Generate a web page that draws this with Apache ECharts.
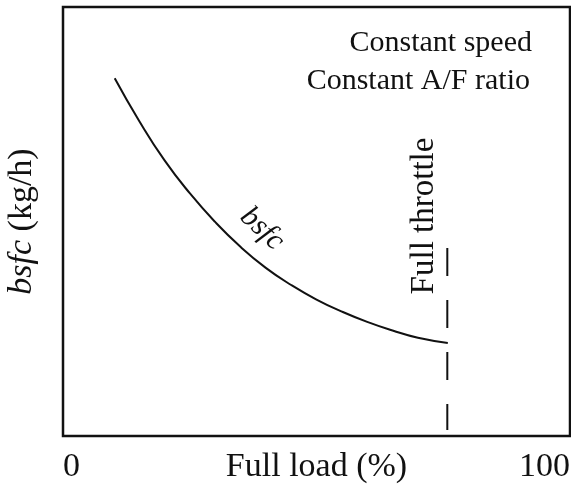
<!DOCTYPE html>
<html>
<head>
<meta charset="utf-8">
<script src="https://cdn.jsdelivr.net/npm/echarts@6/dist/echarts.min.js"></script>
<style>
  html, body { margin: 0; padding: 0; background: #fff; }
  #main { width: 571px; height: 493px; }
</style>
</head>
<body>
<div id="main"></div>
<script>
// bsfc curve (load %, relative bsfc)
var loadPct = [10.2, 15, 20, 25, 30, 35, 40, 45, 50, 55, 60, 65, 70, 75.9];
var bsfcVal = [83.4, 73.5, 64.3, 56.6, 49.9, 44.1, 39.2, 35.2, 31.8, 29.0, 26.6, 24.6, 22.9, 21.7];
// full throttle marker
var throttleX = [75.8, 75.8];
var throttleY = [43.8, 1.4];
var xTicks = [0, 100];

var curveData = [];
for (var i = 0; i < loadPct.length; i++) {
    curveData.push([loadPct[i], bsfcVal[i]]);
}
var throttleData = [];
for (var j = 0; j < throttleX.length; j++) {
    throttleData.push([throttleX[j], throttleY[j]]);
}

var serif = '"Liberation Serif", "DejaVu Serif", serif';
var ink = '#111';

var myChart = echarts.init(document.getElementById('main'));
var option = {
    backgroundColor: '#fff',
    animation: false,
    grid: {
        show: true,
        left: 63,
        right: 1,
        top: 7,
        bottom: 57,
        outerBoundsMode: 'none',
        containLabel: false,
        borderColor: ink,
        borderWidth: 2.5,
        backgroundColor: 'transparent'
    },
    xAxis: {
        type: 'value',
        min: xTicks[0],
        max: xTicks[1],
        interval: 100,
        name: 'Full load (%)',
        nameLocation: 'middle',
        nameGap: 14,
        nameMoveOverlap: false,
        nameTextStyle: { fontFamily: serif, fontSize: 34, color: ink, verticalAlign: 'top' },
        axisLine: { show: false },
        axisTick: { show: false },
        splitLine: { show: false },
        axisLabel: {
            margin: 14,
            fontFamily: serif,
            fontSize: 34,
            color: ink,
            alignMinLabel: 'left',
            alignMaxLabel: 'right'
        }
    },
    yAxis: {
        type: 'value',
        min: 0,
        max: 100,
        name: '{i|bsfc} (kg/h)',
        nameLocation: 'middle',
        nameGap: 24,
        nameMoveOverlap: false,
        nameTextStyle: {
            fontFamily: serif, fontSize: 34, color: ink,
            rich: { i: { fontFamily: serif, fontSize: 34, fontStyle: 'italic', color: ink } }
        },
        axisLine: { show: false },
        axisTick: { show: false },
        axisLabel: { show: false },
        splitLine: { show: false }
    },
    graphic: [
        { type: 'text', right: 39, top: 28,
          style: { text: 'Constant speed', font: '30px ' + serif, fill: ink } },
        { type: 'text', right: 41, top: 66,
          style: { text: 'Constant A/F ratio', font: '30px ' + serif, fill: ink } },
        { type: 'text', x: 262, y: 229, rotation: -0.75,
          style: { text: 'bsfc', font: 'italic 30px ' + serif, fill: ink, align: 'center', verticalAlign: 'middle' } },
        { type: 'text', x: 424, y: 216, rotation: Math.PI / 2,
          style: { text: 'Full throttle', font: '33px ' + serif, fill: ink, align: 'center', verticalAlign: 'middle' } }
    ],
    series: [{
        name: 'bsfc',
        type: 'line',
        smooth: true,
        symbol: 'none',
        data: curveData,
        lineStyle: { color: ink, width: 2 }
    }, {
        name: 'Full throttle',
        type: 'line',
        symbol: 'none',
        data: throttleData,
        lineStyle: { color: ink, width: 2, type: [28, 24] }
    }]
};
myChart.setOption(option);
</script>
</body>
</html>
